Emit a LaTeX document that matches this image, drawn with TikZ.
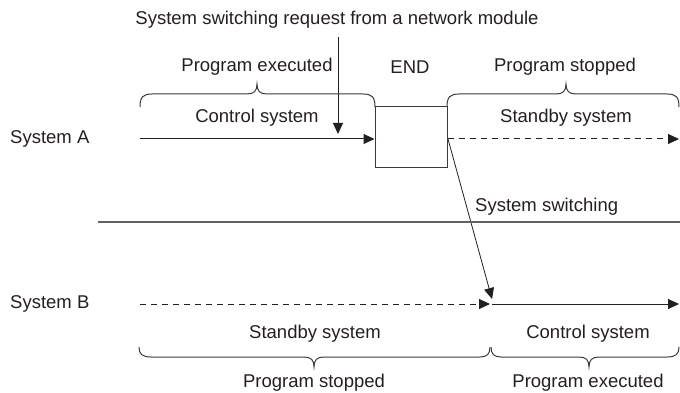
\documentclass[tikz,border=0pt]{standalone}
\usepackage{fontspec}
\setmainfont{Liberation Sans}
\usetikzlibrary{arrows.meta}
\definecolor{ink}{HTML}{231F20}
\definecolor{linegray}{HTML}{3A3A3A}
\tikzset{
  lbl/.style={inner sep=0pt, text=ink, font=\fontsize{18.5}{22}\selectfont},
  conn/.style={draw=ink, line width=1pt, -{Triangle[length=11pt,width=10pt]}},
  dashconn/.style={conn, dash pattern=on 6pt off 5pt},
  bracestyle/.style={draw=linegray, line width=1pt},
  endbox/.style={draw=linegray, line width=1pt, minimum width=72pt, minimum height=60pt, inner sep=0pt},
}
\begin{document}
\begin{tikzpicture}[x=1pt, y=-1pt]
\useasboundingbox (0,0) rectangle (680,393);
% texts
\node[lbl] (title) at (337,20) {System switching request from a network module};
\node[lbl] (pexA) at (257,67) {Program executed};
\node[lbl] (endt) at (410,67) {END};
\node[lbl] (pstA) at (565,67) {Program stopped};
\node[lbl] (ctlA) at (257,118) {Control system};
\node[lbl] (stbA) at (566,118) {Standby system};
\node[lbl, anchor=west] (sysA) at (10,139) {System A};
\node[lbl, anchor=west] (sysB) at (10,304) {System B};
\node[lbl, anchor=west] (swt) at (475,207) {System switching};
\node[lbl] (stbB) at (315,334) {Standby system};
\node[lbl] (ctlB) at (588,334) {Control system};
\node[lbl] (pstB) at (314,383) {Program stopped};
\node[lbl] (pexB) at (588,383) {Program executed};
% END box
\node[endbox] (box) at (411,137) {};
% coordinates
\coordinate (req0) at (338,37);
\coordinate (req1) at (338,134);
\coordinate (a0) at (140,139);
\coordinate (a1) at (679,139);
\coordinate (sw0) at (448,139);
\coordinate (sw1) at (492,299);
\coordinate (b0) at (140,304);
\coordinate (b1) at (490,304);
\coordinate (b1s) at (492,304);
\coordinate (b2) at (679,304);
% connectors
\draw[conn] (req0) -- (req1);
\draw[conn] (a0) -- (a0 -| box.west);
\draw[dashconn] (a1 -| box.east) -- (a1);
\draw[draw=ink, line width=0.8pt, -{Triangle[length=11pt,width=10pt]}] (sw0) -- (sw1);
\draw[dashconn] (b0) -- (b1);
\draw[conn] (b1s) -- (b2);
% separator
\draw[draw=linegray!80, line width=1.6pt] (98,222) -- (680,222);
% top braces
\draw[bracestyle] (140,107) .. controls (140,97) and (143,94) .. (152,94) -- (247,94)
  .. controls (254,94) and (257,91) .. (257,84) .. controls (257,91) and (260,94) .. (267,94)
  -- (363,94) .. controls (372,94) and (375,97) .. (375,107);
\draw[bracestyle] (447,107) .. controls (447,97) and (450,94) .. (459,94) -- (556,94)
  .. controls (563,94) and (566,91) .. (566,84) .. controls (566,91) and (569,94) .. (576,94)
  -- (667,94) .. controls (676,94) and (679,97) .. (679,107);
% bottom braces
\draw[bracestyle] (139,347) .. controls (139,354) and (142,357) .. (151,357) -- (304,357)
  .. controls (311,357) and (314,360) .. (314,367) .. controls (314,360) and (317,357) .. (324,357)
  -- (480,357) .. controls (487,357) and (490,354) .. (490,347);
\draw[bracestyle] (491,347) .. controls (491,354) and (494,357) .. (501,357) -- (579,357)
  .. controls (586,357) and (589,360) .. (589,367) .. controls (589,360) and (592,357) .. (599,357)
  -- (667,357) .. controls (676,357) and (679,354) .. (679,347);
\end{tikzpicture}
\end{document}
